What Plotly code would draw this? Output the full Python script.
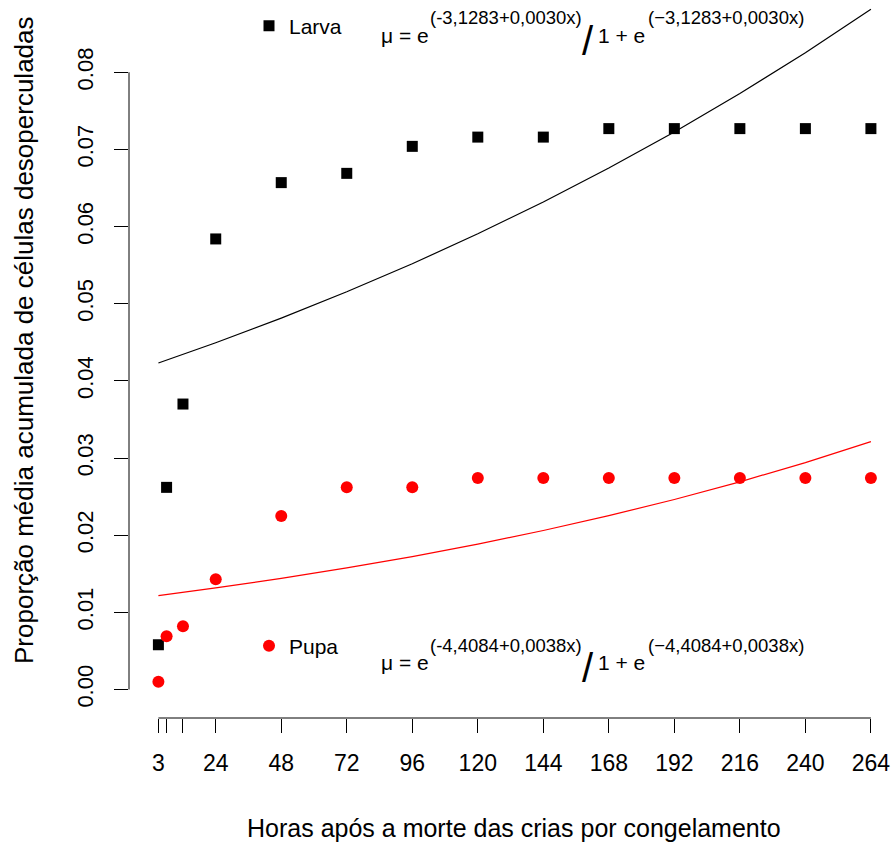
import numpy as np
import plotly.graph_objects as go

# ---- data ----
hours = [3, 6, 12, 24, 48, 72, 96, 120, 144, 168, 192, 216, 240, 264]
larva = [0.0058, 0.0262, 0.0370, 0.0584, 0.0657, 0.0669, 0.0704, 0.0716,
         0.0716, 0.0727, 0.0727, 0.0727, 0.0727, 0.0727]
pupa = [0.0010, 0.0069, 0.0082, 0.0143, 0.0225, 0.0262, 0.0262, 0.0274,
        0.0274, 0.0274, 0.0274, 0.0274, 0.0274, 0.0274]

# fitted logistic model coefficients printed on the chart
larva_coef = [-3.1283, 0.0030]
pupa_coef = [-4.4084, 0.0038]

x_tickvals = [3, 6, 12, 24, 48, 72, 96, 120, 144, 168, 192, 216, 240, 264]
x_ticktext = ["3", "", "", "24", "48", "72", "96", "120", "144", "168",
              "192", "216", "240", "264"]
y_tickvals = [0.00, 0.01, 0.02, 0.03, 0.04, 0.05, 0.06, 0.07, 0.08]
y_ticktext = ["0.00", "0.01", "0.02", "0.03", "0.04", "0.05", "0.06", "0.07", "0.08"]


def fitted(coef, xs):
    xs = np.asarray(xs, dtype=float)
    z = np.exp(coef[0] + coef[1] * xs)
    return z / (1 + z)


FONT = "Liberation Sans, Arial, sans-serif"
W, H = 894, 843
L, R, T, B = 129, 0, 0, 125
PW, PH = W - L - R, H - T - B


def px(x):
    """screen pixel x -> paper x"""
    return (x - L) / PW


def py(y):
    """screen pixel y -> paper y"""
    return 1 - (y - T) / PH


fig = go.Figure()

fig.add_trace(go.Scatter(x=hours, y=list(fitted(larva_coef, hours)), mode="lines",
                         line=dict(color="black", width=1.2), showlegend=False,
                         hoverinfo="skip", cliponaxis=False))
fig.add_trace(go.Scatter(x=hours, y=list(fitted(pupa_coef, hours)), mode="lines",
                         line=dict(color="red", width=1.2), showlegend=False,
                         hoverinfo="skip"))
fig.add_trace(go.Scatter(x=hours, y=larva, mode="markers", name="Larva",
                         marker=dict(symbol="square", size=11, color="black"),
                         legend="legend"))
fig.add_trace(go.Scatter(x=hours, y=pupa, mode="markers", name="Pupa",
                         marker=dict(symbol="circle", size=12, color="red"),
                         legend="legend2"))

# axis lines (R style, spanning the tick range only)
fig.add_shape(type="line", xref="paper", yref="y", x0=0, x1=0, y0=0, y1=0.08,
              line=dict(color="black", width=1))
fig.add_shape(type="line", xref="x", yref="paper", x0=3, x1=264, y0=0, y1=0,
              line=dict(color="black", width=1))

ann = []
tfont = dict(family=FONT, size=21, color="black")
sfont = dict(family=FONT, size=18.5, color="black")
slfont = dict(family=FONT, size=40, color="black")
for (cy, sy, c0) in [(35, 18, "(-3,1283+0,0030x)"), (662, 645, "(-4,4084+0,0038x)")]:
    c1 = c0.replace("(-", "(\u2212")
    ann.append(dict(text="\u03bc = e", x=px(379), y=py(cy), xanchor="left", yanchor="middle", font=tfont))
    ann.append(dict(text=c0, x=px(428), y=py(sy), xanchor="left", yanchor="middle", font=sfont))
    ann.append(dict(text="/", x=px(588), y=py(cy + 6), xanchor="center", yanchor="middle", font=slfont))
    ann.append(dict(text="1 + e", x=px(596), y=py(cy), xanchor="left", yanchor="middle", font=tfont))
    ann.append(dict(text=c1, x=px(646), y=py(sy), xanchor="left", yanchor="middle", font=sfont))

ann.append(dict(text="Horas após a morte das crias por congelamento", x=px(514), y=py(828),
                xanchor="center", yanchor="middle", font=dict(family=FONT, size=25, color="black")))
ann.append(dict(text="Proporção média acumulada de células desoperculadas", x=px(24), y=py(340),
                xanchor="center", yanchor="middle", textangle=-90,
                font=dict(family=FONT, size=26, color="black")))
for a in ann:
    a.update(xref="paper", yref="paper", showarrow=False)

fig.update_layout(
    width=W, height=H,
    margin=dict(l=L, r=R, t=T, b=B),
    paper_bgcolor="white", plot_bgcolor="white",
    font=dict(family=FONT, color="black"),
    annotations=ann,
    xaxis=dict(range=[-7.77, 272.46], showgrid=False, zeroline=False, showline=False,
               tickmode="array", tickvals=x_tickvals, ticktext=x_ticktext,
               ticks="outside", ticklen=14, tickwidth=1, tickcolor="black",
               ticklabelstandoff=10,
               tickfont=dict(family=FONT, size=23, color="black")),
    yaxis=dict(range=[-0.003694, 0.08937], showgrid=False, zeroline=False, showline=False,
               tickmode="array", tickvals=y_tickvals, ticktext=y_ticktext,
               ticks="outside", ticklen=14, tickwidth=1, tickcolor="black",
               tickangle=-90, ticklabelstandoff=12,
               tickfont=dict(family=FONT, size=22, color="black")),
    legend=dict(x=px(249), y=py(26), xanchor="left", yanchor="middle",
                bgcolor="rgba(0,0,0,0)", borderwidth=0,
                font=dict(family=FONT, size=21, color="black")),
    legend2=dict(x=px(249), y=py(646), xanchor="left", yanchor="middle",
                 bgcolor="rgba(0,0,0,0)", borderwidth=0,
                 font=dict(family=FONT, size=21, color="black")),
)

fig.write_html("out.html", config={"displayModeBar": False},
               post_script="document.body.style.margin='0';document.body.style.overflow='hidden';")
